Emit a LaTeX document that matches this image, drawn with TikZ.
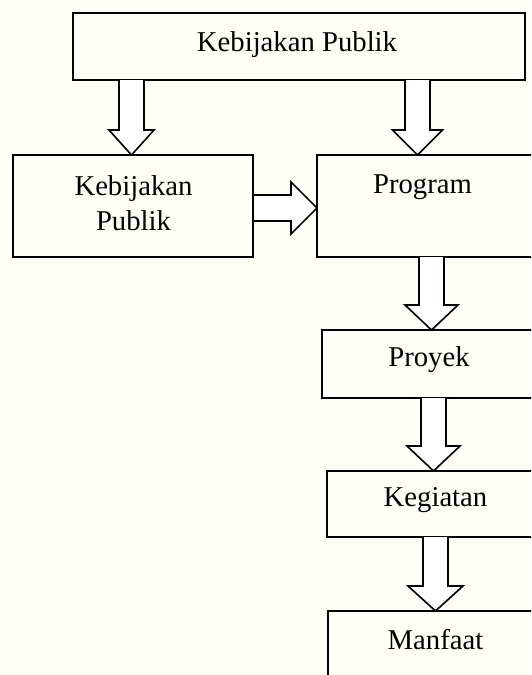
\documentclass[tikz,border=0pt]{standalone}
\usepackage{fontspec}
\setmainfont{Liberation Serif}
\usetikzlibrary{calc}
\begin{document}
\begin{tikzpicture}[x=1pt,y=-1pt,
  boxstyle/.style={draw=black,line width=1.6pt,fill=none,inner sep=0pt,outer sep=0pt},
  txt/.style={font=\fontsize{28.7}{35}\selectfont,align=center,inner sep=0pt},
  blockarrow/.style={draw=black,line width=1.6pt,fill=white,line join=miter}]
\useasboundingbox (0,0) rectangle (531,675);
\fill[white!97!yellow] (0,0) rectangle (531,675);
\clip (0,0) rectangle (531,675);
% boxes
\node[boxstyle,minimum width=452pt,minimum height=67pt] (top) at (299,46.5) {};
\node[boxstyle,minimum width=240pt,minimum height=102pt] (kp) at (133,206) {};
\node[boxstyle,minimum width=228pt,minimum height=102pt] (prog) at (431,206) {};
\node[boxstyle,minimum width=223pt,minimum height=68pt] (proy) at (433.5,364) {};
\node[boxstyle,minimum width=218pt,minimum height=66pt] (keg) at (436,504) {};
\node[boxstyle,minimum width=217pt,minimum height=89pt] (manf) at (436.5,655.5) {};
% texts
\node[txt] (t1) at (297,45) {Kebijakan Publik};
\node[txt] (t2) at (133.5,203) {Kebijakan\\Publik};
\node[txt] (t3) at (422.5,187) {Program};
\node[txt] (t4) at (429,360) {Proyek};
\node[txt] (t5) at (435.5,500) {Kegiatan};
\node[txt] (t6) at (435.5,640) {Manfaat};
% block arrows (down): #1 center x, #2 from node, #3 to node, #4 head half width
\newcommand{\blkdown}[4]{%
  \draw[blockarrow] let \p1=(#1,0 |- #2.south), \p2=(#1,0 |- #3.north) in
   (\x1-12.5pt,\y1) -- (\x1-12.5pt,\y2+25pt) -- (\x1-#4pt,\y2+25pt) -- (\x1,\y2)
   -- (\x1+#4pt,\y2+25pt) -- (\x1+12.5pt,\y2+25pt) -- (\x1+12.5pt,\y1);}
\blkdown{131.5}{top}{kp}{22.5}
\blkdown{417.5}{top}{prog}{25}
\blkdown{431.5}{prog}{proy}{26.5}
\blkdown{433.5}{proy}{keg}{26.5}
\blkdown{435.5}{keg}{manf}{27.5}
% horizontal block arrow
\draw[blockarrow] let \p1=(kp.east), \p2=(prog.west) in
  (\x1+1pt,\y1+11pt) -- (\x2-26pt,\y1+11pt) -- (\x2-26pt,\y1+24pt) -- (\x2,\y1-2pt)
  -- (\x2-26pt,\y1-28pt) -- (\x2-26pt,\y1-15pt) -- (\x1+1pt,\y1-15pt);
\end{tikzpicture}
\end{document}
